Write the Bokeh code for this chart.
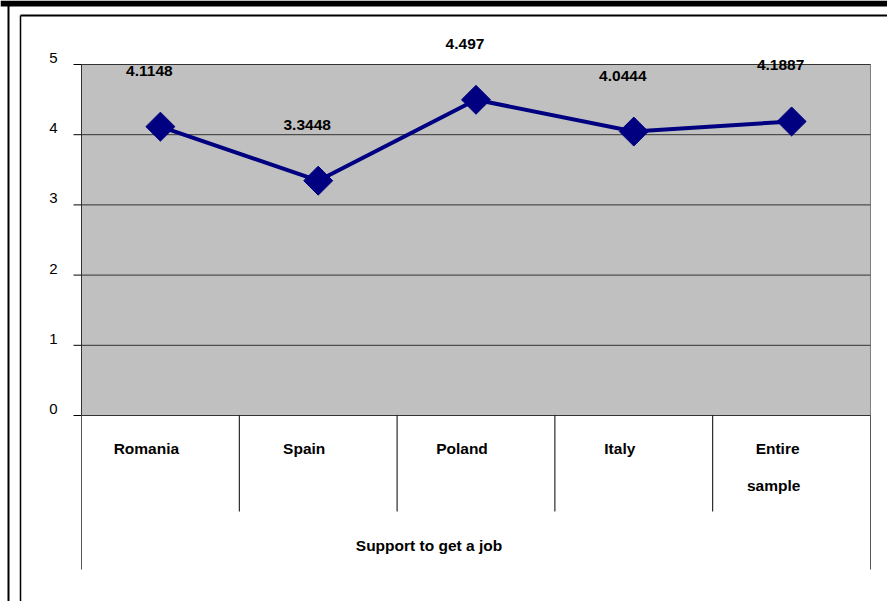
import math
from bokeh.plotting import figure
from bokeh.models import Range1d, LinearAxis, FixedTicker, PrintfTickFormatter
from bokeh.core.properties import value
from bokeh.embed import file_html
from bokeh.resources import INLINE

# ---- data ----
CATEGORIES = ["Romania", "Spain", "Poland", "Italy", "Entire sample"]
CAT_LINE1 = ["Romania", "Spain", "Poland", "Italy", "Entire"]
CAT_LINE2 = ["", "", "", "", "sample"]
SCORES = [4.1148, 3.3448, 4.497, 4.0444, 4.1887]
SCORE_LABELS = ["4.1148", "3.3448", "4.497", "4.0444", "4.1887"]
Y_TICKS = [0, 1, 2, 3, 4, 5]
GROUP_LABEL = "Support to get a job"

# ---- layout (pixels) ----
W, H = 887, 601
PL, PR = 81, 870      # plot area left/right
PT, PB = 64, 415      # plot area top/bottom
n = len(CATEGORIES)
ymax = Y_TICKS[-1]
sx = (PR - PL) / n
sy = (PB - PT) / ymax
x_start = -0.5 - PL / sx
x_end = x_start + W / sx
y_start = -(H - PB) / sy
y_end = y_start + H / sy


def px_x(px):
    return x_start + px / sx


def px_y(py):
    return y_end - py / sy


FONT = value("Liberation Sans")
NAVY = "#000080"

p = figure(width=W, height=H, x_range=Range1d(x_start, x_end),
           y_range=Range1d(y_start, y_end), min_border=0,
           toolbar_location=None, output_backend="svg",
           x_axis_location=None, y_axis_location=None,
           outline_line_color=None, background_fill_color="white",
           border_fill_color="white")
for g in p.grid:
    g.visible = False

# page frame decoration
p.quad(left=x_start, right=x_end, top=px_y(0), bottom=px_y(6),
       fill_color="black", line_color=None)
p.quad(left=px_x(7), right=px_x(9), top=px_y(5), bottom=y_start,
       fill_color="black", line_color=None)
p.segment(x0=px_x(20), x1=x_end, y0=px_y(15), y1=px_y(15),
          line_color="black", line_width=2)
p.segment(x0=px_x(20), x1=px_x(20), y0=px_y(15), y1=y_start,
          line_color="black", line_width=1.5)

# plot area
p.quad(left=-0.5, right=n - 0.5, bottom=0, top=ymax,
       fill_color="#C0C0C0", line_color="#808080", line_width=1)
p.segment(x0=[-0.5] * len(Y_TICKS), x1=[n - 0.5] * len(Y_TICKS),
          y0=Y_TICKS, y1=Y_TICKS, line_color="#333333", line_width=1)
# left axis line and tick marks
p.segment(x0=[-0.5], x1=[-0.5], y0=[0], y1=[ymax], line_color="#333333",
          line_width=1)
p.segment(x0=[-0.5 - 8 / sx] * len(Y_TICKS), x1=[-0.5] * len(Y_TICKS),
          y0=Y_TICKS, y1=Y_TICKS, line_color="black", line_width=1)

# y axis labels (sit slightly above their ticks, as in the original)
lab_shift = 6.5 / sy
ax2 = LinearAxis(fixed_location=-0.5,
                 ticker=FixedTicker(ticks=[t + lab_shift for t in Y_TICKS]),
                 formatter=PrintfTickFormatter(format="%d"),
                 axis_line_color=None, major_tick_line_color=None,
                 minor_tick_line_color=None, major_tick_out=8,
                 major_label_standoff=16,
                 major_label_text_font="Liberation Sans",
                 major_label_text_font_size="15px",
                 major_label_text_color="black")
p.add_layout(ax2, "left")

# category axis separators
bounds = [i - 0.5 for i in range(n + 1)]
inner = bounds[1:-1]
p.segment(x0=inner, x1=inner, y0=[0] * len(inner), y1=[px_y(511)] * len(inner),
          line_color="black", line_width=1)
outer = [bounds[0], bounds[-1]]
p.segment(x0=outer, x1=outer, y0=[0, 0], y1=[px_y(569)] * 2,
          line_color="#555555", line_width=1)

idx = list(range(n))
p.text(x=idx, y=[0] * n, text=CAT_LINE1, x_offset=-14, y_offset=33,
       text_align="center", text_baseline="middle", text_font=FONT,
       text_font_style="bold", text_font_size="15.5px", text_color="black")
p.text(x=idx, y=[0] * n, text=CAT_LINE2, x_offset=-18, y_offset=70,
       text_align="center", text_baseline="middle", text_font=FONT,
       text_font_style="bold", text_font_size="15.5px", text_color="black")
p.text(x=[(n - 1) / 2], y=[0], text=[GROUP_LABEL], x_offset=-47, y_offset=130,
       text_align="center", text_baseline="middle", text_font=FONT,
       text_font_style="bold", text_font_size="15.5px", text_color="black")

# series
p.line(x=idx, y=SCORES, line_color=NAVY, line_width=4)
p.scatter(x=idx, y=SCORES, marker="square", angle=math.pi / 4, size=20.5,
          fill_color=NAVY, line_color=NAVY)
p.text(x=idx, y=SCORES, text=SCORE_LABELS, x_offset=-11, y_offset=-56,
       text_align="center", text_baseline="middle", text_font=FONT,
       text_font_style="bold", text_font_size="15.5px", text_color="black")

open("out.html", "w").write(file_html(p, INLINE))
